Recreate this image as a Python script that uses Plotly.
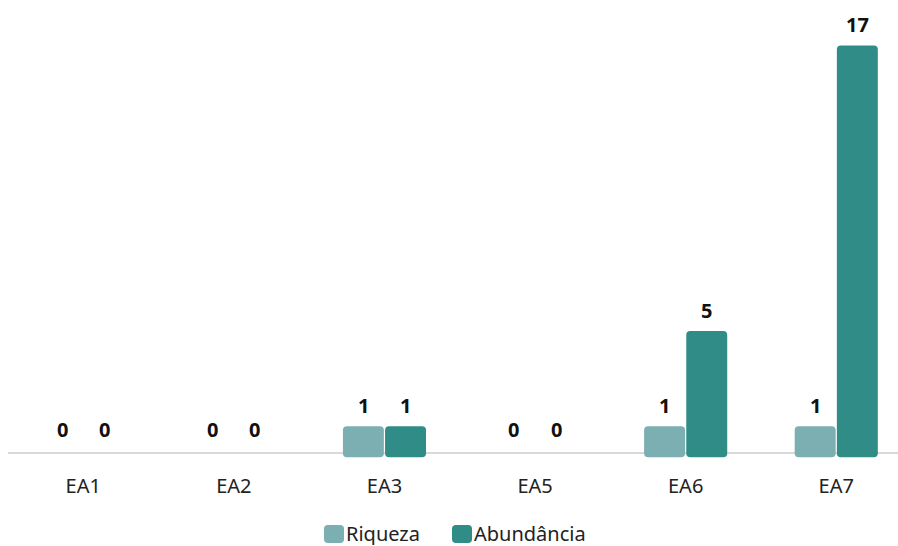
import plotly.graph_objects as go

categories = ["EA1", "EA2", "EA3", "EA5", "EA6", "EA7"]
riqueza = [0, 0, 1, 0, 1, 1]
abundancia = [0, 0, 1, 0, 5, 17]
series_names = ["Riqueza", "Abundância"]
colors = ["#7BAFB1", "#2F8C86"]

FONT = "Noto Sans"
BASE = -0.3      # bars start slightly below the baseline
OFF = 0.14       # half-spacing of grouped bars (category units)
BW = 0.272       # bar width (category units)

W, H = 898, 546
MB = 88
PH = H - MB

fig = go.Figure()
idx = list(range(len(categories)))
for k, (name, vals, col) in enumerate(zip(series_names, [riqueza, abundancia], colors)):
    sgn = -1 if k == 0 else 1
    xs = [i + sgn * OFF for i in idx]
    fig.add_trace(go.Bar(
        x=xs,
        y=[(v - BASE) if v > 0 else 0 for v in vals],
        base=BASE,
        width=BW,
        name=name,
        marker=dict(color=col, line=dict(width=0)),
        showlegend=False,
        hoverinfo="skip",
    ))
    for x, v in zip(xs, vals):
        fig.add_annotation(x=x, y=v, xref="x", yref="y", text=f"<b>{v}</b>",
                           showarrow=False, yanchor="bottom", yshift=5,
                           font=dict(family=FONT, size=20, color="#111111"))

# baseline
fig.add_shape(type="line", xref="x", yref="y", x0=-0.5, x1=5.42, y0=-0.13, y1=-0.13,
              line=dict(color="#D9D9D9", width=2), layer="below")

# legend (manual, rounded squares)
def rsq(px0, py0, px1, py1, r, col):
    x0, x1 = px0 / W, px1 / W
    y0, y1 = (PH - py1) / PH, (PH - py0) / PH
    rx, ry = r / W, r / PH
    path = (f"M{x0+rx},{y0} L{x1-rx},{y0} Q{x1},{y0} {x1},{y0+ry} "
            f"L{x1},{y1-ry} Q{x1},{y1} {x1-rx},{y1} L{x0+rx},{y1} "
            f"Q{x0},{y1} {x0},{y1-ry} L{x0},{y0+ry} Q{x0},{y0} {x0+rx},{y0} Z")
    fig.add_shape(type="path", xref="paper", yref="paper", path=path,
                  fillcolor=col, line=dict(width=0))

leg_sq = [(324, 525, 344, 543), (452, 525, 472, 543)]
leg_tx = [345, 473]
for (a, b, c, d), tx, name, col in zip(leg_sq, leg_tx, series_names, colors):
    rsq(a, b, c, d, 4, col)
    fig.add_annotation(x=tx / W, y=(PH - 533) / PH, xref="paper", yref="paper", text=name,
                       showarrow=False, xanchor="left", yanchor="middle", height=24,
                       borderpad=0,
                       font=dict(family=FONT, size=20, color="#222222"))

fig.update_layout(
    width=W, height=H,
    margin=dict(l=0, r=0, t=0, b=MB),
    plot_bgcolor="white", paper_bgcolor="white",
    barmode="overlay",
    barcornerradius=4,
    showlegend=False,
    xaxis=dict(range=[-0.553, 5.41], tickvals=idx, ticktext=categories,
               showgrid=False, zeroline=False, showline=False, ticks="",
               ticklabelstandoff=14,
               tickfont=dict(family=FONT, size=20, color="#222222"), fixedrange=True),
    yaxis=dict(range=[-0.336, 18.91], visible=False, fixedrange=True),
)

fig.write_html("out.html")
